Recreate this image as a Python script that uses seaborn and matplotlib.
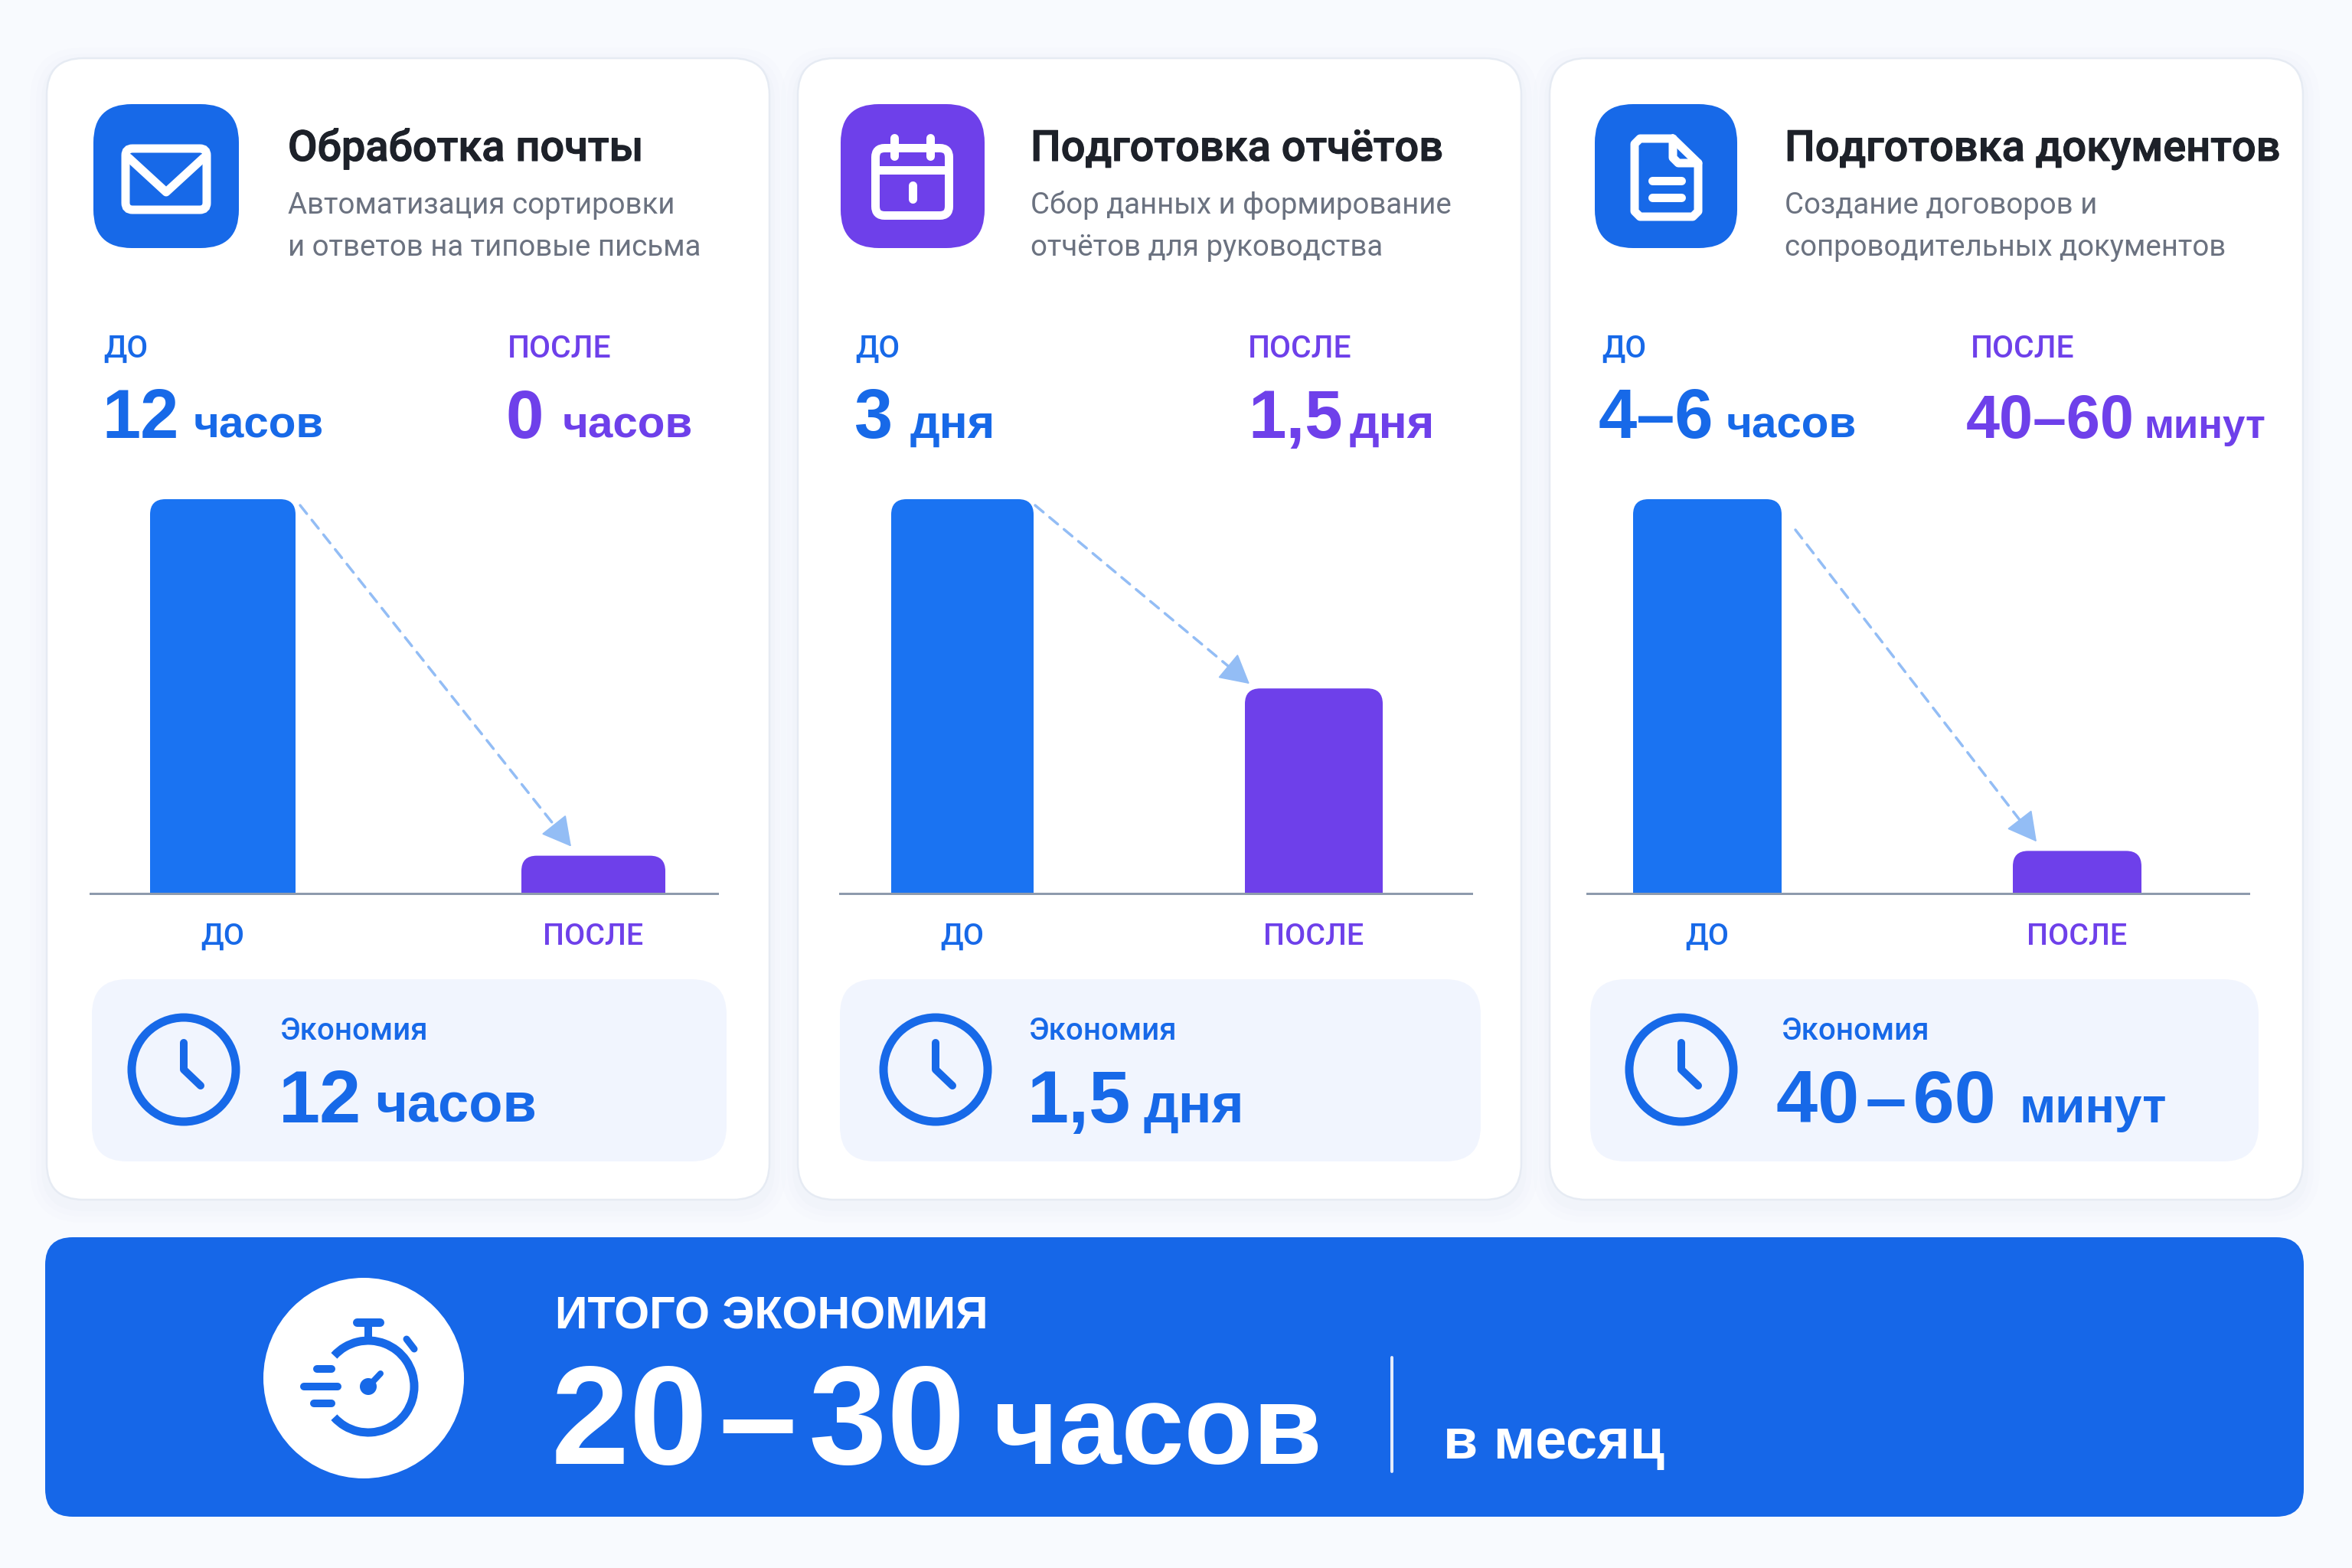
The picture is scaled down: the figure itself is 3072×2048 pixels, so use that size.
import numpy as np
import pandas as pd
import matplotlib
matplotlib.use('Agg')
import matplotlib.pyplot as plt
import matplotlib.patheffects as pe
import seaborn as sns
from matplotlib.patches import FancyBboxPatch, Circle, Arc
from matplotlib.transforms import IdentityTransform

# data
stages = ['ДО', 'ПОСЛЕ']
mail_values = [12, 1.15]
reports_values = [3, 1.56]
docs_values = [5, 0.54]

titles = ['Обработка почты', 'Подготовка отчётов', 'Подготовка документов']
subs = [['Автоматизация сортировки', 'и ответов на типовые письма'],
        ['Сбор данных и формирование', 'отчётов для руководства'],
        ['Создание договоров и', 'сопроводительных документов']]
before_nums = ['12', '3', '4–6']
before_units = ['часов', 'дня', 'часов']
after_nums = ['0', '1,5', '40–60']
after_units = ['часов', 'дня', 'минут']
saved_label = 'Экономия'
saved_nums = ['12', '1,5', '40\u200a–\u200a60']
saved_units = ['часов', 'дня', 'минут']
total_label = 'ИТОГО ЭКОНОМИЯ'
total_num = '20\u200a–\u200a30'
total_unit = 'часов'
total_period = 'в месяц'

BLUE = '#1769E8'
BAR_BLUE = '#1A73F2'
PURPLE = '#6E40EA'
BG = '#F8FAFE'
PANEL = '#F1F5FE'
GREY = '#6B7280'
W, H = 3072, 2048
HEAVY = ['Liberation Sans', 'DejaVu Sans']

sns.set_theme(style='white')
plt.rcParams['font.family'] = ['Roboto', 'DejaVu Sans']

fig = plt.figure(figsize=(15.36, 10.24), dpi=200, facecolor=BG)
bg = fig.add_axes([0, 0, 1, 1])
bg.set_xlim(0, W)
bg.set_ylim(H, 0)
bg.axis('off')


def lw(px):
    return px * 0.36


def rbox(x0, y0, x1, y1, r, **kw):
    p = FancyBboxPatch((x0, y0), x1 - x0, y1 - y0, boxstyle=f'round,pad=0,rounding_size={r}', **kw)
    bg.add_patch(p)
    return p


def put(x, y, s, size, color, weight='normal', **kw):
    return bg.text(x, y, s, fontsize=size, color=color, fontweight=weight, va='baseline', **kw)


def big(x, y, s, size, color):
    put(x, y, s, size, color, 'bold', family=HEAVY)


def stroke(xs, ys, px=11, color='white', cap='round'):
    bg.plot(xs, ys, color=color, lw=lw(px), solid_capstyle=cap, solid_joinstyle='round')


def unit_size(unit, base):
    # 'часов' is set a little tighter than 'дня' in the header row
    return base - 1 if unit == 'часов' else base


# layout per card, in picture pixels
cards = [(61, 1005), (1042, 1987), (2024, 3008)]
icons = [(122, 312), (1098, 1286), (2083, 2269)]
icon_colors = [BLUE, PURPLE, BLUE]
text_x = [376, 1346, 2331]
before_x = [(135, 133, 253), (1117, 1116, 1189), (2092, 2088, 2255)]
after_x = [(663, 660, 735), (1630, 1630, 1763), (2574, 2568, 2800)]
axis_x = [(118, 937), (1097, 1922), (2073, 2937)]
bar_centers = [(291, 775), (1257, 1716), (2230, 2713)]
bar_widths = [(190, 188), (186, 180), (194, 168)]
arrow_off = [((6, 8), (65, -12)), ((2, 8), (6, -6)), ((18, 40), (31, -12))]
panels = [(120, 949), (1097, 1934), (2077, 2950)]
clocks = [240, 1222, 2196]
saved_x = [(366, 364, 490), (1344, 1342, 1493), (2327, 2320, 2637)]
saved_unit_sizes = [26, 26, 23]
all_values = [mail_values, reports_values, docs_values]
AX_TOP, AX_BOTTOM = 652, 1167

# cards with a soft shadow
for x0, x1 in cards:
    for grow, alpha in [(22, 0.012), (14, 0.016), (7, 0.02)]:
        rbox(x0 - grow, 76 - grow + 8, x1 + grow, 1567 + grow + 8, 48 + grow, fc='#8CA3C8', ec='none', alpha=alpha)
    rbox(x0, 76, x1, 1567, 48, fc='white', ec='#E6EBF3', lw=lw(2.5))

for i in range(3):
    ix0, ix1 = icons[i]
    rbox(ix0, 136, ix1, 324, 50, fc=icon_colors[i], ec='none')
    t = put(text_x[i], 210, titles[i], 20.1, '#1D2129', 'medium')
    t.set_path_effects([pe.withStroke(linewidth=0.4, foreground='#1D2129')])
    put(text_x[i], 279, subs[i][0], 13.8, GREY)
    put(text_x[i], 334, subs[i][1], 13.8, GREY)

    lx, nx, ux = before_x[i]
    put(lx, 467, stages[0], 14.5, BLUE, 'medium')
    big(nx, 572, before_nums[i], 32.5, BLUE)
    big(ux, 572, before_units[i], unit_size(before_units[i], 22), BLUE)
    lx, nx, ux = after_x[i]
    put(lx, 467, stages[1], 14.7, PURPLE, 'medium')
    small = after_nums[i] == '40–60'
    big(nx, 572, after_nums[i], 28.5 if small else 32, PURPLE)
    big(ux, 572, after_units[i], 19 if small else unit_size(after_units[i], 22), PURPLE)

    # savings panel
    px0, px1 = panels[i]
    rbox(px0, 1279, px1, 1517, 46, fc=PANEL, ec='none')
    cx = clocks[i]
    bg.add_patch(Circle((cx, 1397), 68, fc='none', ec=BLUE, lw=lw(11)))
    stroke([cx, cx, cx + 22], [1362, 1397, 1418], px=10, color=BLUE)
    lx, nx, ux = saved_x[i]
    put(lx, 1358, saved_label, 14.5, BLUE, 'medium')
    big(nx, 1466, saved_nums[i], 35, BLUE)
    big(ux, 1466, saved_units[i], saved_unit_sizes[i], BLUE)

# bar charts
for i in range(3):
    x0, x1 = axis_x[i]
    c0, c1 = bar_centers[i]
    ax = fig.add_axes([x0 / W, 1 - AX_BOTTOM / H, (x1 - x0) / W, (AX_BOTTOM - AX_TOP) / H])
    ax.patch.set_alpha(0)
    df = pd.DataFrame({'stage': stages, 'value': all_values[i]})
    sns.barplot(data=df, x='stage', y='value', hue='stage', palette=[BAR_BLUE, PURPLE],
                width=0.4, saturation=1, legend=False, ax=ax)
    spacing = c1 - c0
    ax.set_xlim((x0 - c0) / spacing, (x1 - c0) / spacing)
    ax.set_ylim(0, max(all_values[i]))
    ax.set_xlabel('')
    ax.set_ylabel('')
    ax.set_yticks([])
    sns.despine(ax=ax, left=True)
    ax.spines['bottom'].set_color('#8E9BAD')
    ax.spines['bottom'].set_linewidth(lw(3))
    ax.tick_params(axis='x', length=0, pad=13.5, labelsize=14.2)
    for tick, col in zip(ax.get_xticklabels(), [BLUE, PURPLE]):
        tick.set_color(col)
        tick.set_fontweight('medium')

    # round the top corners of the bars, keep the library's geometry
    tops = []
    bars = [b for c in ax.containers for b in c]
    for bar, col, pw in zip(bars, [BAR_BLUE, PURPLE], bar_widths[i]):
        mid = bar.get_x() + bar.get_width() / 2
        (xa, ya) = ax.transData.transform((mid, bar.get_height()))
        (_, yb) = ax.transData.transform((mid, 0))
        bar.set_visible(False)
        p = FancyBboxPatch((xa - pw / 2, yb - 30), pw, ya - yb + 30, boxstyle='round,pad=0,rounding_size=20',
                           fc=col, ec='none', transform=IdentityTransform())
        ax.add_patch(p)
        p.set_clip_box(ax.bbox)
        tops.append((xa - pw / 2, xa + pw / 2, ya))

    # dashed line plus a solid head
    (sx, sy), (ex, ey) = arrow_off[i]
    start = np.array([tops[0][1] + sx, tops[0][2] - sy])
    end = np.array([tops[1][0] + ex, tops[1][2] - ey])
    neck = end - (end - start) / np.linalg.norm(end - start) * 26
    ax.annotate('', xy=neck, xytext=start, xycoords='figure pixels', textcoords='figure pixels',
                annotation_clip=False,
                arrowprops=dict(arrowstyle='-', color='#93BDF5', lw=lw(3.5), linestyle=(0, (4, 3)),
                                shrinkA=0, shrinkB=0))
    ax.annotate('', xy=end, xytext=neck, xycoords='figure pixels', textcoords='figure pixels',
                annotation_clip=False,
                arrowprops=dict(arrowstyle='-|>,head_length=0.55,head_width=0.3', mutation_scale=22,
                                color='#93BDF5', lw=lw(2), shrinkA=0, shrinkB=0))

# mail icon
rbox(164, 194, 270, 274, 9, fc='none', ec='white', lw=lw(11))
stroke([168, 217, 266], [206, 251, 206])

# calendar icon
rbox(1143.5, 193.5, 1239.5, 281.5, 12, fc='none', ec='white', lw=lw(11))
stroke([1143, 1240], [222, 222], cap='butt')
stroke([1168, 1168], [180, 204])
stroke([1215, 1215], [180, 204])
stroke([1192, 1192], [242, 260])

# document icon
stroke([2185, 2142, 2135, 2135, 2142, 2211, 2218, 2218, 2185], [181, 181, 188, 276, 283, 283, 276, 213, 181])
stroke([2185, 2185, 2192, 2218], [181, 206, 213, 213])
stroke([2158, 2196], [236, 236])
stroke([2158, 2196], [258, 258])

# total banner
rbox(59, 1616, 3009, 1981, 36, fc='#1667E8', ec='none')
bg.add_patch(Circle((475, 1800), 131, fc='white', ec='none'))
bg.add_patch(Arc((481, 1811), 120, 120, theta1=-138, theta2=138, ec=BLUE, lw=lw(11)))
stroke([466, 496], [1727, 1727], px=11, color=BLUE)
stroke([481, 481], [1727, 1748], px=10, color=BLUE, cap='butt')
stroke([531, 541], [1749, 1762], px=9, color=BLUE)
stroke([414, 433], [1788, 1788], px=10, color=BLUE)
stroke([397, 441], [1811, 1811], px=10, color=BLUE)
stroke([410, 433], [1833, 1833], px=10, color=BLUE)
bg.add_patch(Circle((481, 1811), 11, fc=BLUE, ec='none'))
stroke([481, 497], [1811, 1794], px=8, color=BLUE)

big(725, 1735, total_label, 21.3, 'white')
big(720, 1912, total_num, 66, 'white')
big(1297, 1912, total_unit, 53, 'white')
bg.plot([1818, 1818], [1773, 1922], color='#E4ECFB', lw=lw(4))
big(1885, 1905, total_period, 26.5, 'white')

fig.savefig('out.png', dpi=200, facecolor=BG)
